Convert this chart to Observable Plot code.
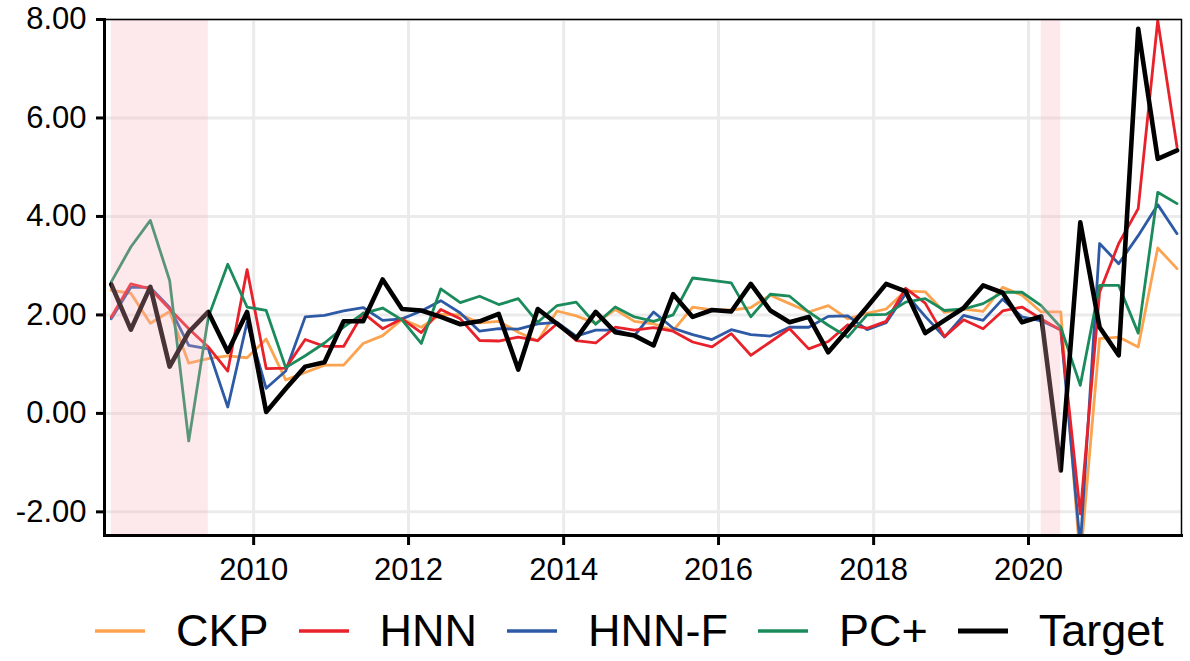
<!DOCTYPE html>
<html>
<head>
<meta charset="utf-8">
<script src="https://cdn.jsdelivr.net/npm/d3@7"></script>
<script src="https://cdn.jsdelivr.net/npm/@observablehq/plot@0.6"></script>
<style>
  html, body { margin: 0; padding: 0; background: white; }
  body { width: 1190px; height: 661px; overflow: hidden; font-family: "Liberation Sans", Arial, sans-serif; }
  #legend { display: flex; align-items: center; height: 61px; padding-left: 95px; font-size: 45px; color: black; white-space: nowrap; }
  #legend .item { display: flex; align-items: center; margin-right: 30px; }
  #legend svg { margin-right: 31px; }
</style>
</head>
<body>
<div id="chart"></div>
<div id="legend"></div>
<script>
const quarters = [
  "2008-03-01","2008-06-01","2008-09-01","2008-12-01",
  "2009-03-01","2009-06-01","2009-09-01","2009-12-01",
  "2010-03-01","2010-06-01","2010-09-01","2010-12-01",
  "2011-03-01","2011-06-01","2011-09-01","2011-12-01",
  "2012-03-01","2012-06-01","2012-09-01","2012-12-01",
  "2013-03-01","2013-06-01","2013-09-01","2013-12-01",
  "2014-03-01","2014-06-01","2014-09-01","2014-12-01",
  "2015-03-01","2015-06-01","2015-09-01","2015-12-01",
  "2016-03-01","2016-06-01","2016-09-01","2016-12-01",
  "2017-03-01","2017-06-01","2017-09-01","2017-12-01",
  "2018-03-01","2018-06-01","2018-09-01","2018-12-01",
  "2019-03-01","2019-06-01","2019-09-01","2019-12-01",
  "2020-03-01","2020-06-01","2020-09-01","2020-12-01",
  "2021-03-01","2021-06-01","2021-09-01","2021-12-01"
];

const CKP = [2.50, 2.44, 1.83, 2.07, 1.02, 1.11, 1.17, 1.13, 1.51, 0.68, 0.83, 0.98, 0.98, 1.42, 1.58, 1.91, 1.75, 2.01, 2.00, 1.84, 1.87, 1.65, 1.47, 2.08, 1.98, 1.83, 2.11, 1.87, 1.82, 1.68, 2.16, 2.10, 2.10, 2.15, 2.40, 2.23, 2.06, 2.19, 1.92, 2.03, 2.12, 2.49, 2.47, 2.05, 2.12, 2.07, 2.56, 2.40, 2.06, 2.06, -3.00, 1.52, 1.55, 1.35, 3.36, 2.94];
const HNN = [1.96, 2.63, 2.53, 2.12, 1.72, 1.35, 0.86, 2.92, 0.91, 0.92, 1.50, 1.36, 1.36, 2.04, 1.72, 1.92, 1.64, 2.11, 1.92, 1.48, 1.47, 1.55, 1.48, 1.82, 1.48, 1.43, 1.75, 1.69, 1.74, 1.67, 1.45, 1.35, 1.62, 1.18, 1.45, 1.72, 1.31, 1.46, 1.80, 1.73, 1.87, 2.54, 2.24, 1.56, 1.90, 1.72, 2.08, 2.16, 1.92, 1.69, -2.04, 2.46, 3.45, 4.16, 7.98, 5.41];
const HNNF = [1.92, 2.56, 2.56, 2.15, 1.38, 1.31, 0.13, 1.85, 0.51, 0.86, 1.96, 1.99, 2.08, 2.15, 1.89, 1.92, 2.08, 2.29, 2.04, 1.67, 1.72, 1.71, 1.82, 1.85, 1.57, 1.69, 1.69, 1.58, 2.06, 1.73, 1.60, 1.50, 1.70, 1.60, 1.57, 1.75, 1.75, 1.97, 1.98, 1.70, 1.84, 2.43, 1.97, 1.55, 1.99, 1.89, 2.32, 1.96, 1.88, 1.70, -2.70, 3.45, 3.04, 3.61, 4.24, 3.65];
const PCplus = [2.67, 3.38, 3.92, 2.70, -0.56, 1.95, 3.03, 2.16, 2.09, 0.93, 1.17, 1.43, 1.75, 2.03, 2.14, 1.90, 1.42, 2.53, 2.25, 2.38, 2.21, 2.33, 1.85, 2.19, 2.26, 1.81, 2.16, 1.96, 1.87, 2.00, 2.75, 2.70, 2.65, 1.96, 2.42, 2.38, 2.06, 1.79, 1.55, 2.00, 2.01, 2.26, 2.33, 2.09, 2.12, 2.23, 2.46, 2.46, 2.19, 1.75, 0.57, 2.60, 2.60, 1.63, 4.49, 4.26];
const Target = [2.62, 1.70, 2.57, 0.95, 1.65, 2.06, 1.25, 2.06, 0.03, 0.50, 0.95, 1.04, 1.87, 1.87, 2.72, 2.12, 2.09, 1.96, 1.81, 1.87, 2.02, 0.89, 2.12, 1.82, 1.52, 2.06, 1.65, 1.58, 1.38, 2.42, 1.96, 2.10, 2.07, 2.63, 2.09, 1.85, 1.96, 1.24, 1.70, 2.16, 2.63, 2.48, 1.63, 1.89, 2.14, 2.60, 2.45, 1.85, 1.97, -1.16, 3.88, 1.75, 1.18, 7.81, 5.17, 5.34];

const seriesNames = ["CKP", "HNN", "HNN-F", "PC+", "Target"];
const seriesValues = [CKP, HNN, HNNF, PCplus, Target];
const seriesColors = ["#fca34f", "#e8212a", "#2d59a5", "#1b8b5c", "#000000"];
const seriesWidths = [2.8, 2.8, 2.8, 2.8, 4.6];
const drawOrder = ["CKP", "HNN-F", "HNN", "PC+", "Target"];

const recessionStarts = ["2008-03-01", "2020-03-01"];
const recessionEnds = ["2009-06-01", "2020-06-01"];

const xTickYears = [2010, 2012, 2014, 2016, 2018, 2020];
const yTicks = [-2, 0, 2, 4, 6, 8];
const xDomain = ["2008-01-29", "2021-12-22"];
const yDomain = [-2.48, 8.0];

const dates = quarters.map(q => new Date(q + "T00:00:00Z"));
const recessions = recessionStarts.map((s, i) => ({start: new Date(s + "T00:00:00Z"), end: new Date(recessionEnds[i] + "T00:00:00Z")}));
const xTickDates = xTickYears.map(y => new Date(Date.UTC(y, 0, 1)));

const lineMarks = drawOrder.map(name => {
  const k = seriesNames.indexOf(name);
  const rows = seriesValues[k].map((v, i) => ({date: dates[i], value: v}));
  return Plot.line(rows, {x: "date", y: "value", stroke: seriesColors[k], strokeWidth: seriesWidths[k], strokeLinejoin: "round", clip: true});
});

const chart = Plot.plot({
  width: 1190,
  height: 600,
  marginLeft: 104,
  marginRight: 9,
  marginTop: 19,
  marginBottom: 65,
  style: {fontFamily: "Liberation Sans, Arial, sans-serif", fontSize: "31px", color: "black", background: "white"},
  x: {type: "utc", domain: xDomain.map(d => new Date(d + "T00:00:00Z"))},
  y: {domain: yDomain},
  marks: [
    Plot.gridX(xTickDates, {stroke: "#ebebeb", strokeOpacity: 1, strokeWidth: 3}),
    Plot.gridY(yTicks, {stroke: "#ebebeb", strokeOpacity: 1, strokeWidth: 3}),
    ...lineMarks,
    Plot.rect(recessions, {x1: "start", x2: "end", fill: "rgb(248,176,189)", fillOpacity: 0.29}),
    Plot.frame({stroke: "black", strokeWidth: 1.5}),
    Plot.frame({anchor: "left", stroke: "black", strokeWidth: 3}),
    Plot.frame({anchor: "bottom", stroke: "black", strokeWidth: 3}),
    Plot.axisX({ticks: xTickDates, tickFormat: d3.utcFormat("%Y"), tickSize: 10, tickPadding: 12, strokeWidth: 3, label: null, fontSize: 31}),
    Plot.axisY({ticks: yTicks, tickFormat: d => d.toFixed(2), tickSize: 8, tickPadding: 10, strokeWidth: 3, label: null, fontSize: 31})
  ]
});
document.getElementById("chart").appendChild(chart);

const legend = document.getElementById("legend");
seriesNames.forEach((name, k) => {
  const item = document.createElement("div");
  item.className = "item";
  item.innerHTML = `<svg width="50" height="12"><line x1="0" x2="50" y1="6" y2="6" stroke="${seriesColors[k]}" stroke-width="${k === 4 ? 5 : 3.5}"/></svg><span>${name}</span>`;
  legend.appendChild(item);
});
</script>
</body>
</html>
